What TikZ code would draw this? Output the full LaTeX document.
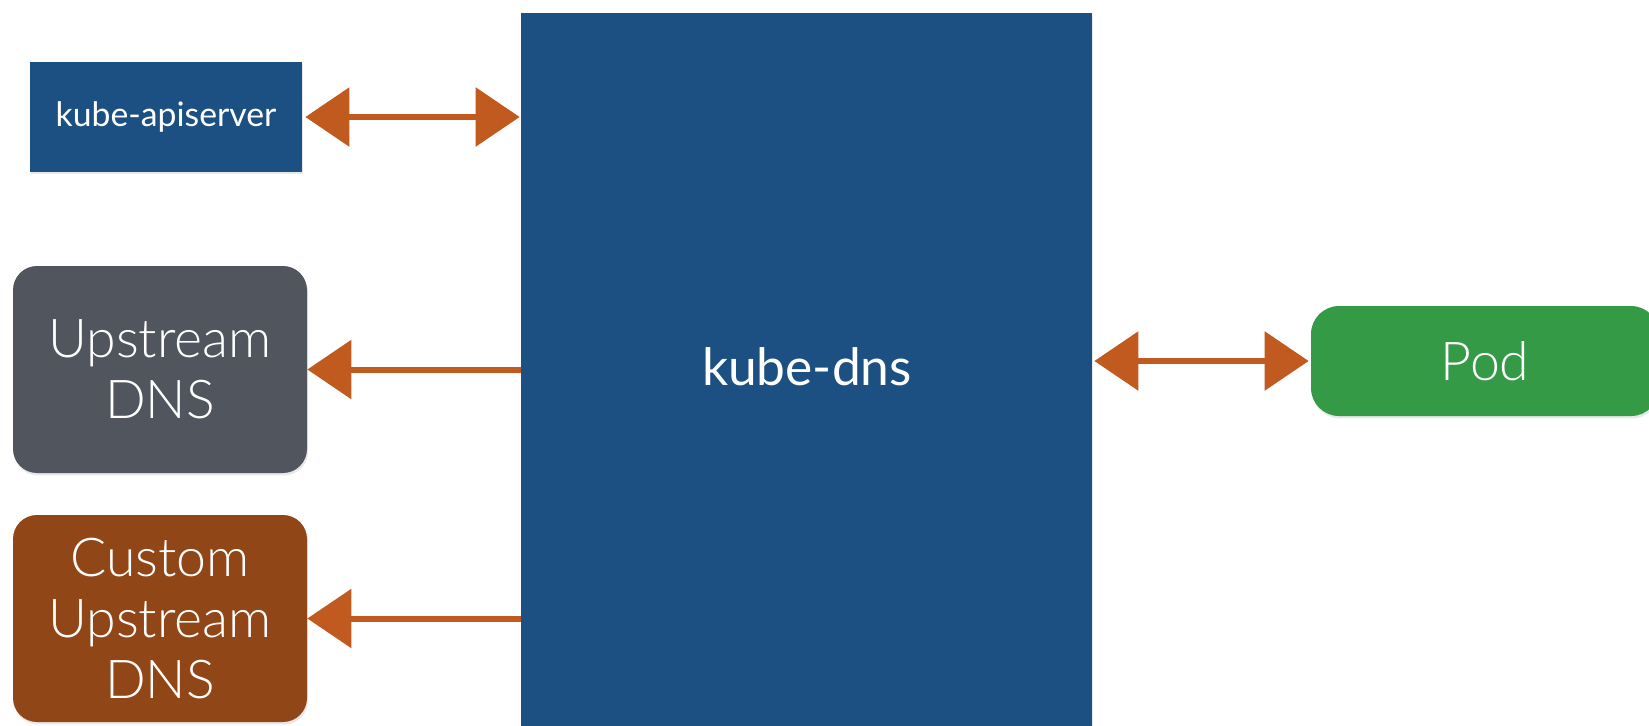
\documentclass[tikz,border=0pt]{standalone}
\usepackage{fontspec}
\setmainfont{Lato}
\newfontfamily\lightfont{Lato Light}
\usetikzlibrary{arrows.meta,shadows}

% one drawing unit = one pixel of the 1649 x 725 canvas
\def\unitpx{0.02cm}

\definecolor{kubeblue}{HTML}{1C5082}
\definecolor{slategrey}{HTML}{51565E}
\definecolor{rustbrown}{HTML}{904616}
\definecolor{podgreen}{HTML}{359A46}
\definecolor{chalkorange}{HTML}{C05A1E}

\tikzset{
  softshadow/.style={drop shadow={opacity=0.18, shadow xshift=0.6pt, shadow yshift=-1.4pt}},
  squarebox/.style={rectangle, fill=kubeblue, text=white, inner sep=0pt},
  roundbox/.style={rectangle, rounded corners=24*\unitpx, text=white, inner sep=0pt,
                   align=center, softshadow},
  bigtext/.style={font=\lightfont\fontsize{30.5}{34.5}\selectfont},
  chalk/.style={draw=chalkorange, line width=6*\unitpx,
                arrows={-Triangle[length=44*\unitpx, width=58*\unitpx]}},
  chalkboth/.style={chalk,
                arrows={Triangle[length=44*\unitpx, width=58*\unitpx]-Triangle[length=44*\unitpx, width=58*\unitpx]}},
}

\begin{document}
\begin{tikzpicture}[x=\unitpx, y=-\unitpx]
  \useasboundingbox (0,0) rectangle (1649,725);
  \clip (0,0) rectangle (1649,725);
  \fill[white] (0,0) rectangle (1649,725);

  % central service box, running past the lower edge
  \node[squarebox, softshadow, minimum width=571*\unitpx, minimum height=722*\unitpx]
    (dns) at (806.5,374) {};
  \node[text=white, font=\fontsize{29.3}{34}\selectfont] (dnslabel) at (807,367) {kube-dns};

  % API server
  \node[squarebox, softshadow, minimum width=272*\unitpx, minimum height=110*\unitpx,
        font=\fontsize{19.2}{22}\selectfont]
    (api) at (166,117) {kube-apiserver};

  % upstream resolvers
  \node[roundbox, fill=slategrey, minimum width=294*\unitpx, minimum height=207*\unitpx, bigtext]
    (up) at (160,369.5) {Upstream\\DNS};
  \node[roundbox, fill=rustbrown, minimum width=294*\unitpx, minimum height=207*\unitpx, bigtext]
    (custom) at (160,618.5) {Custom\\Upstream\\DNS};

  % client pod, its right end runs past the edge
  \node[roundbox, rounded corners=28*\unitpx, fill=podgreen, minimum width=348*\unitpx,
        minimum height=110*\unitpx, bigtext]
    (pod) at (1485,361) {Pod};

  % connectors
  \draw[chalkboth] ([xshift=3*\unitpx]api.east) -- ([xshift=-1*\unitpx]api.east -| dns.west);
  \draw[chalk] (up.east -| dns.west) -- (up.east);
  \draw[chalk] (custom.east -| dns.west) -- (custom.east);
  \draw[chalkboth] ([xshift=2*\unitpx]pod.west -| dns.east) -- ([xshift=-2*\unitpx]pod.west);
\end{tikzpicture}
\end{document}
